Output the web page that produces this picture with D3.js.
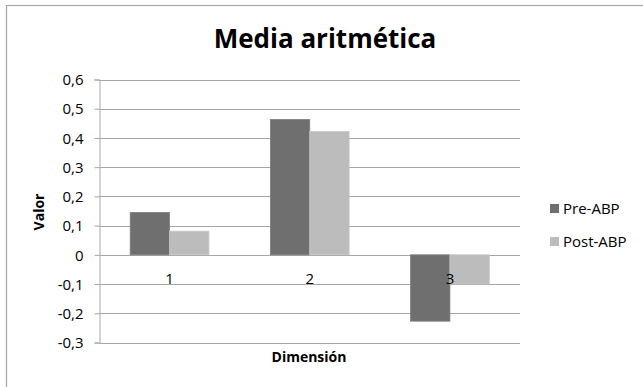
<!DOCTYPE html>
<html>
<head>
<meta charset="utf-8">
<script src="https://cdn.jsdelivr.net/npm/d3@7"></script>
<style>
  html, body { margin: 0; padding: 0; background: #fff; }
  svg { display: block; }
  text { font-family: "Open Sans", sans-serif; fill: #000; }
</style>
</head>
<body>
<svg id="chart" width="643" height="387"></svg>
<script>
// Mean scores per dimension, before and after ABP
const categories = ["1", "2", "3"];
const preABP  = [0.145, 0.463, -0.227];
const postABP = [0.081, 0.422, -0.100];
const seriesNames = ["Pre-ABP", "Post-ABP"];
const seriesColors = ["#6f6f6f", "#bcbcbc"];
const yTicks = [-0.3, -0.2, -0.1, 0, 0.1, 0.2, 0.3, 0.4, 0.5, 0.6];

const series = [preABP, postABP];
const svg = d3.select("#chart");

const plot = { left: 99.5, right: 520, top: 79.5, bottom: 342.5 };

// Outer chart frame
svg.append("rect")
  .attr("x", 6.5).attr("y", 5.5)
  .attr("width", 700).attr("height", 500)
  .attr("fill", "none").attr("stroke", "#a6a6a6").attr("stroke-width", 1.2);

const x = d3.scaleBand().domain(categories).range([plot.left, plot.right]);
const xInner = d3.scaleBand().domain(d3.range(series.length))
  .range([0, x.bandwidth()]).paddingInner(0.0).paddingOuter(0.78);
const y = d3.scaleLinear().domain([-0.3, 0.6]).range([plot.bottom, plot.top]);

const fmt = v => (v === 0 ? "0" : d3.format(".1f")(v).replace(".", ",").replace("−", "-"));

// Gridlines
svg.append("g").selectAll("line").data(yTicks).join("line")
  .attr("x1", plot.left).attr("x2", plot.right)
  .attr("y1", d => Math.round(y(d)) + 0.5).attr("y2", d => Math.round(y(d)) + 0.5)
  .attr("stroke", "#a6a6a6").attr("stroke-width", 1);

// Y axis
const yAxis = d3.axisLeft(y).tickValues(yTicks).tickSize(5).tickPadding(11).tickFormat(fmt);
const gy = svg.append("g").attr("transform", `translate(${plot.left},0)`).call(yAxis);
gy.select(".domain").attr("stroke", "#a6a6a6");
gy.selectAll(".tick line").attr("stroke", "#a6a6a6");
gy.selectAll(".tick text").style("font-size", "15px").attr("fill", "#000").attr("dy", "0.35em")
  .style("font-family", "'Open Sans', sans-serif");

// Bars
const groups = svg.append("g").selectAll("g").data(categories).join("g")
  .attr("transform", d => `translate(${x(d)},0)`);
groups.selectAll("rect")
  .data((d, i) => series.map((s, k) => ({ k, v: s[i] })))
  .join("rect")
  .attr("x", d => xInner(d.k))
  .attr("width", xInner.bandwidth())
  .attr("y", d => y(Math.max(0, d.v)))
  .attr("height", d => Math.abs(y(d.v) - y(0)))
  .attr("fill", d => seriesColors[d.k])
  .attr("stroke", d => d.k === 0 ? "#7d7d7d" : "#c8c8c8")
  .attr("stroke-width", 0.8);

// Category labels sit just below the zero line
const xAxis = d3.axisBottom(x).tickSize(0).tickPadding(19);
const gx = svg.append("g").attr("transform", `translate(0,${y(0)})`).call(xAxis);
gx.select(".domain").remove();
gx.selectAll(".tick text").style("font-size", "15px").attr("fill", "#000")
  .style("font-family", "'Open Sans', sans-serif");

// Title
svg.append("text").attr("x", 325).attr("y", 48).attr("text-anchor", "middle")
  .style("font-size", "26px").style("font-weight", "bold").text("Media aritmética");

// Axis titles
svg.append("text").attr("x", 309).attr("y", 362).attr("text-anchor", "middle")
  .style("font-size", "14px").style("font-weight", "bold").text("Dimensión");
svg.append("text").attr("transform", "translate(44,212) rotate(-90)").attr("text-anchor", "middle")
  .style("font-size", "14px").style("font-weight", "bold").text("Valor");

// Legend
const legend = svg.append("g").selectAll("g").data(seriesNames).join("g")
  .attr("transform", (d, i) => `translate(550,${204 + i * 33})`);
legend.append("rect").attr("width", 9).attr("height", 9)
  .attr("fill", (d, i) => seriesColors[i]);
legend.append("text").attr("x", 13).attr("y", 5).attr("dy", "0.35em")
  .style("font-size", "15px").text(d => d);
</script>
</body>
</html>
